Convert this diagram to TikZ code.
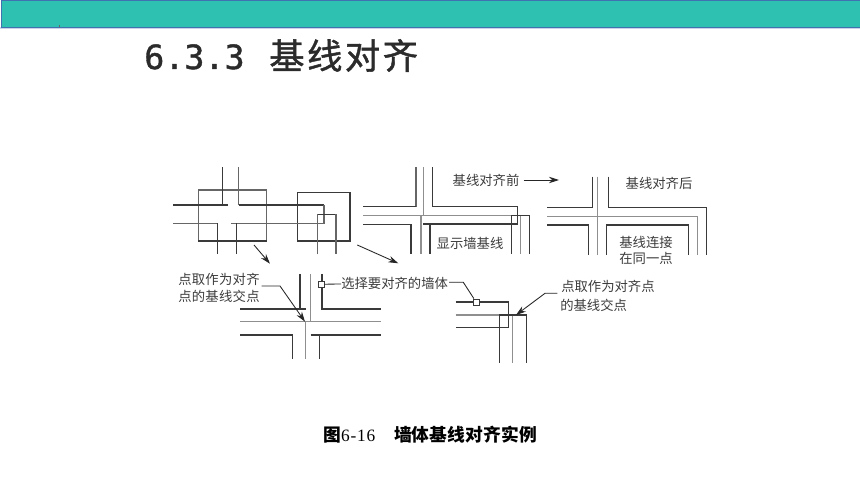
\documentclass[tikz,border=0pt]{standalone}
\usepackage{fontspec}
\usetikzlibrary{arrows.meta}
\setmainfont{Noto Sans CJK SC}
\newfontfamily\cjkfont{Noto Sans CJK SC}
\newfontfamily\titlemono[FakeBold=1.2]{DejaVu Sans Mono}
\newfontfamily\titlecjk[FakeBold=1.2,LetterSpace=7]{Noto Sans CJK SC}
\newfontfamily\capserif[LetterSpace=5]{Liberation Serif}
\definecolor{bandteal}{HTML}{2EC0B1}
\definecolor{bandedge}{HTML}{3F72AE}
\definecolor{bandglow}{HTML}{CBD3E8}
\definecolor{walldark}{HTML}{3A3A3A}
\definecolor{wallmid}{HTML}{666666}
\definecolor{basegray}{HTML}{8F8F8F}
\definecolor{labelgray}{HTML}{3C3C3C}
\definecolor{titleink}{HTML}{2B2B2B}
\tikzset{
  x=0.75pt,y=-0.75pt,
  wall/.style={draw=walldark,line width=0.95pt,line join=miter},
  midwall/.style={draw=wallmid,line width=1pt,line join=miter},
  base/.style={draw=basegray,line width=1pt,line join=miter},
  lead/.style={draw=black!85,line width=0.65pt},
  tipped/.style={lead,-{Stealth[length=7.5pt,width=4.8pt]}},
  label/.style={inner sep=0pt,text=labelgray,font=\fontsize{10pt}{12pt}\selectfont\cjkfont},
  pick/.style={draw=walldark,line width=0.65pt,fill=white,minimum width=4.6pt,minimum height=5pt,inner sep=0pt},
}
\begin{document}
\begin{tikzpicture}
\useasboundingbox (0,0) rectangle (860,484);
\fill[white] (0,0) rectangle (860,484);
% band
\fill[bandglow] (0,27) rectangle (860,29);
\draw[bandedge,fill=bandteal,line width=0.75pt] (1,0.5) rectangle (861,27.5);
\draw[black!60,line width=0.3pt] (59,25) -- (59,27);
% title
\node[anchor=base west,inner sep=0pt,text=titleink] (title) at (144,69)
  {\fontsize{25pt}{30pt}\selectfont{\titlemono 6.3.3}\hspace{18.5pt}{\fontsize{26.5pt}{30pt}\selectfont\titlecjk 基线对齐}};
% panel 1
\draw[midwall] (198.3,241) |- (266.7,190) -- (266.7,241);
\draw[wall] (198.3,241) -- (266.7,241);
\draw[wall] (297.7,192.3) rectangle (350,241);
\draw[wall] (222.3,167.3) -- (222.3,205);
\draw[wall] (173.3,205) -- (227.7,205);
\draw[midwall] (238.7,167.3) -- (238.7,205);
\draw[wall] (238.7,205) -- (324,205);
\draw[midwall] (324,205) -- (324,223.3) -- (230.7,223.3);
\draw[midwall] (173.3,223.3) -- (217.7,223.3);
\draw[wall] (217.7,223.3) -- (217.7,254.3);
\draw[wall] (236.7,223.3) -- (236.7,254.3);
\draw[midwall] (317.7,254.3) |- (336,214.3);
\draw[wall] (317.7,214.3) -- (336,214.3);
\draw[midwall] (336,214.3) -- (336,254.3);
% panel 2
\draw[midwall] (416,167.3) -- (416,206.7);
\draw[wall] (416,206.7) -- (363.3,206.7);
\draw[base] (423.3,167.3) -- (423.3,215.3) -- (363.3,215.3);
\draw[base] (421,215.3) -- (421,254);
\draw[wall] (432.3,167.3) |- (517.3,206.7) -- (517.3,224) -- (423.3,224);
\draw[base] (423.3,215.3) -- (520.7,215.3) -- (520.7,254);
\draw[wall] (511.7,254) |- (529.3,215.3) -- (529.3,254);
\draw[wall] (430,224) -- (430,254);
\draw[wall] (363.3,224.3) -| (411,254);
% panel 3
\draw[wall] (592.7,176.7) |- (547.3,207.3);
\draw[base] (597.7,176.7) -- (597.7,255);
\draw[wall] (608.3,176.7) |- (706.7,207.3) -- (706.7,255);
\draw[base] (547.3,216.3) -| (697.7,255);
\draw[wall] (547.3,225) -| (588.3,255);
\draw[wall] (606.7,255) |- (688.3,225) -- (688.3,255);
% panel 4
\draw[wall] (300,274) -- (300,309);
\draw[wall] (240,309) -- (306,309);
\draw[base] (310.7,274) -- (310.7,321.7);
\draw[base] (240,321.7) -- (380.7,321.7);
\draw[base] (305.7,321.7) -- (305.7,359);
\draw[wall] (322,274) |- (380.7,309);
\draw[wall] (240,335) -| (292.7,359);
\draw[wall] (310.7,335) -- (380.7,335);
\draw[wall] (319.7,335) -- (319.7,359);
% panel 5
\draw[wall] (455.7,302) -| (508.3,327.3) -- (455.7,327.3);
\draw[base] (455.7,315) -- (512.3,315) -- (512.3,362.7);
\draw[wall] (499.3,362.7) |- (526.7,315) -- (526.7,362.7);
% labels
\node[label] (before) at (486,180) {基线对齐前};
\node[label] (after) at (659,183) {基线对齐后};
\node[label] (showbase) at (470,243) {显示墙基线};
\node[label] (joined) at (646,242) {基线连接};
\node[label] (samepoint) at (646,258) {在同一点};
\node[label,anchor=west] (pickleft1) at (178,279) {\addfontfeature{LetterSpace=2}点取作为对齐};
\node[label,anchor=west] (pickleft2) at (178,296) {\addfontfeature{LetterSpace=2}点的基线交点};
\node[label,anchor=west] (choose) at (341,283) {选择要对齐的墙体};
\node[label,anchor=west] (pickright1) at (561,286) {点取作为对齐点};
\node[label,anchor=west] (pickright2) at (560,305) {的基线交点};
% pick boxes
\node[pick] (boxa) at (321.3,284.3) {};
\node[pick] (boxb) at (476.3,302.3) {};
% connector ends
\coordinate (a1s) at (254,245);
\coordinate (a1e) at (270,263.7);
\coordinate (a2s) at (357.3,245);
\coordinate (a2e) at (398.3,263.3);
\coordinate (a3e) at (559,180);
\coordinate (l1k) at (280,286);
\coordinate (l1s) at (261.7,286);
\coordinate (l1e) at (305,321.7);
\coordinate (l2k) at (463.3,282.3);
\coordinate (l3s) at (557.3,293.3);
\coordinate (l3k) at (545,293.3);
\coordinate (l3e) at (516,315);
% connectors
\draw[tipped] (a1s) -- (a1e);
\draw[tipped] (a2s) -- (a2e);
\draw[tipped] (before.east) ++(4,0) coordinate (a3s) -- (a3e);
\draw[tipped] (l1s) -- (l1k) -- (l1e);
\draw[lead] (boxa) -- (choose);
\draw[lead] (choose.east) ++(1,-0.7) coordinate (l2s) -- (l2k) -- (boxb);
\draw[tipped] (l3s) -- (l3k) -- (l3e);
% caption
\node[anchor=west,inner sep=0pt,text=black] (caption) at (323,435)
  {\fontsize{13.3pt}{15pt}\selectfont{\cjkfont\bfseries 图}{\capserif\fontsize{13pt}{15pt}\selectfont 6-16}\hspace{14pt}{\cjkfont\bfseries\addfontfeature{LetterSpace=1} 墙体基线对齐实例}};
\end{tikzpicture}
\end{document}
